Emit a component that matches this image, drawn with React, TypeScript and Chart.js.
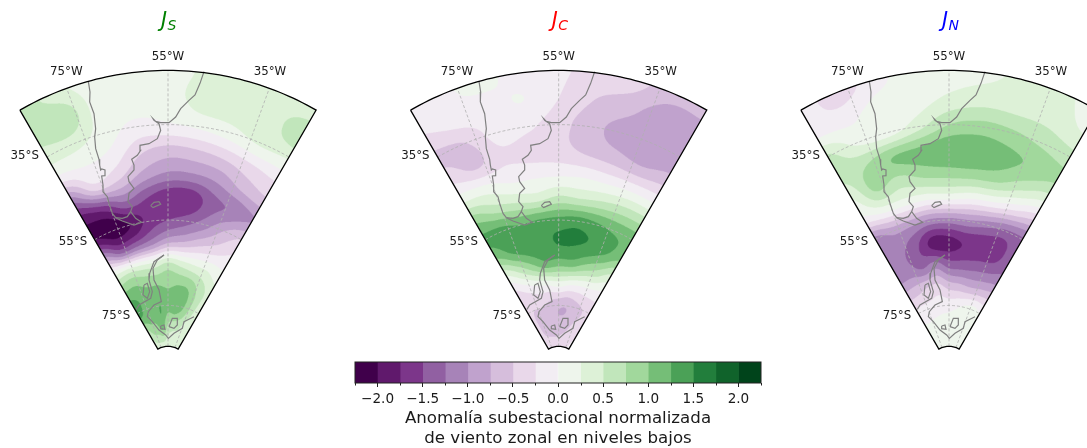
import React, { useEffect, useRef } from "react";
import { Chart, registerables } from "chart.js";

Chart.register(...registerables);

// ---------- field grid: normalised anomaly at lon/lat nodes ----------
const gridLons = [-85, -77.5, -70, -62.5, -55, -47.5, -40, -32.5, -25];
const gridLats = [-25, -30, -35, -40, -45, -50, -55, -60, -65, -70, -75, -80, -85];

const valuesJS = [
  [0.65, 0.35, 0.12, 0.12, 0.12, 0.3, 0.35, 0.35, 0.3],
  [0.6, 0.7, 0.12, 0.12, 0.12, 0.37, 0.37, 0.37, 0.72],
  [0.38, 0.35, 0.12, -0.08, -0.03, 0.05, 0.15, 0.3, 0.3],
  [-0.1, 0, -0.1, -0.45, -0.6, -0.55, -0.45, -0.3, -0.2],
  [-1.1, -0.4, -0.5, -0.85, -1.05, -1.05, -0.95, -0.7, -0.55],
  [-1.9, -1.7, -1.3, -1.5, -1.7, -1.7, -1.35, -1.2, -1.02],
  [-2.0, -2.15, -2.0, -1.65, -1.5, -1.35, -1.1, -0.75, -0.5],
  [-0.9, -1.4, -1.3, -1.1, -0.8, -0.7, -0.5, -0.35, -0.2],
  [0.35, 0.4, 0.35, 0.35, 0.55, 0.4, 0.3, 0.25, 0.1],
  [1.1, 1.1, 1.0, 1.0, 0.95, 1.0, 0.95, 0.65, 0.4],
  [1.4, 1.2, 1.1, 1.25, 1.1, 1.2, 1.0, 0.65, 0.3],
  [0.7, 0.9, 0.95, 1.1, 0.7, 0.6, 0.55, 0.35, 0.3],
  [0.4, 0.4, 0.4, 0.35, 0.3, 0.3, 0.3, 0.25, 0.25],
];

const valuesJC = [
  [-0.1, -0.02, 0.05, -0.1, -0.2, -0.35, -0.4, -0.65, -0.7],
  [-0.25, -0.1, -0.08, 0, -0.25, -0.5, -0.65, -0.9, -0.85],
  [-0.55, -0.5, -0.15, -0.2, -0.4, -0.65, -0.85, -0.95, -0.95],
  [-0.35, -0.55, -0.3, -0.35, -0.4, -0.55, -0.65, -0.75, -0.65],
  [0.15, 0.1, -0.05, -0.05, -0.05, -0.05, -0.1, -0.1, -0.1],
  [0.9, 0.65, 0.5, 0.4, 0.55, 0.5, 0.55, 0.6, 0.6],
  [1.3, 1.35, 1.25, 1.3, 1.33, 1.38, 1.3, 1.2, 1.15],
  [1.0, 1.3, 1.42, 1.42, 1.52, 1.52, 1.45, 1.3, 1.05],
  [0.2, 0.55, 0.9, 1.15, 1.1, 1.1, 0.9, 0.7, 0.4],
  [-0.35, -0.2, -0.05, 0, 0.1, 0, -0.05, -0.05, -0.1],
  [-0.45, -0.5, -0.5, -0.6, -0.7, -0.72, -0.6, -0.5, -0.4],
  [-0.3, -0.6, -0.65, -0.65, -0.65, -0.6, -0.5, -0.4, -0.3],
  [-0.2, -0.25, -0.3, -0.35, -0.35, -0.3, -0.3, -0.25, -0.2],
];

const valuesJN = [
  [-0.1, -0.4, -0.1, 0.1, 0.15, 0.2, 0.3, 0.3, 0.15],
  [-0.1, -0.08, 0.1, 0.12, 0.3, 0.4, 0.4, 0.4, 0.25],
  [0.55, 0.2, 0.12, 0.4, 0.75, 0.85, 0.8, 0.7, 0.6],
  [0.55, 0.75, 1.0, 1.08, 1.2, 1.2, 1.08, 0.95, 0.8],
  [0.25, 0.8, 0.65, 0.8, 0.85, 0.85, 0.8, 0.55, 0.3],
  [-0.1, 0.1, 0.1, 0.05, 0.1, 0, -0.05, -0.25, -0.5],
  [-1.1, -0.9, -0.95, -1.1, -1.1, -1.05, -1.15, -1.3, -1.3],
  [-1.15, -1.2, -1.45, -1.85, -1.85, -1.72, -1.7, -1.65, -1.35],
  [-1.15, -1.15, -1.3, -1.15, -1.4, -1.4, -1.35, -1.3, -1.2],
  [-0.65, -0.6, -0.5, -0.45, -0.65, -0.7, -0.75, -0.7, -0.65],
  [-0.15, -0.15, -0.15, -0.1, -0.1, -0.05, 0.05, 0.1, 0],
  [0.05, 0.05, 0.1, 0.1, 0.1, 0.12, 0.12, 0.12, 0.1],
  [0.1, 0.1, 0.1, 0.1, 0.1, 0.1, 0.1, 0.1, 0.1],
];

// ---------- colour bar ----------
const levelEdges = [
  -2.25, -2, -1.75, -1.5, -1.25, -1, -0.75, -0.5, -0.25, 0, 0.25, 0.5, 0.75, 1, 1.25, 1.5, 1.75, 2, 2.25,
];
const levelColors = [
  "#40004b", "#60196c", "#7c368a", "#9160a2", "#a783b8", "#c0a2cd", "#d6bedc", "#e9d8ea", "#f2edf3",
  "#eef5ec", "#ddf1d7", "#c1e6bb", "#a1d89c", "#75be77", "#4ba157", "#227e3c", "#10632b", "#00441b",
];
const majorTicks = [-2, -1.5, -1, -0.5, 0, 0.5, 1, 1.5, 2];
const minorTicks = [-2.25, -1.75, -1.25, -0.75, -0.25, 0.25, 0.75, 1.25, 1.75, 2.25];
const colorbarTitle = ["Anomalía subestacional normalizada", "de viento zonal en niveles bajos"];

// ---------- map furniture ----------
const gratLons = [-75, -55, -35];
const gratLats = [-35, -55, -75];
const mapLabelTexts = ["55°W", "75°W", "35°W", "35°S", "55°S", "75°S"];
const mapLabelE = [0, -305, 306, -430, -285, -156];
const mapLabelN = [930, 883, 883, 633, 373, 151];

// coastlines as [east, north] in map units (stereographic, pole at the origin)
const southAmerica = [
  [-239, 856], [-234, 824], [-235, 794], [-222, 759], [-217, 714], [-220, 689], [-217, 654], [-207, 622],
  [-205, 605], [-202, 590], [-199, 593], [-189, 590], [-189, 573], [-199, 572], [-195, 545], [-195, 525],
  [-182, 510], [-177, 490], [-167, 460], [-157, 447], [-137, 437], [-102, 425], [-79, 433], [-97, 445],
  [-112, 465], [-107, 480], [-120, 495], [-117, 520], [-102, 535], [-117, 555], [-120, 570], [-102, 590],
  [-102, 605], [-109, 622], [-92, 634], [-82, 649], [-84, 664], [-57, 669], [-32, 684], [-22, 709],
  [-27, 729], [-42, 739], [-45, 744], [-37, 736], [-22, 732], [3, 732], [23, 749], [38, 774], [63, 799],
  [81, 815], [96, 850], [108, 885],
];
const magellanStrait = [[-112, 465], [-122, 450], [-137, 445], [-157, 447]];
const falklands = [[-52, 483], [-42, 493], [-27, 495], [-22, 487], [-32, 483], [-45, 477], [-52, 483]];
const peninsulaWest = [
  [-12, 335], [-42, 315], [-55, 280], [-57, 260], [-47, 225], [-52, 205], [-87, 185], [-95, 172],
];
const peninsulaEast = [
  [-12, 335], [-32, 320], [-45, 295], [-42, 260], [-27, 230], [-20, 195], [-42, 185], [-59, 165], [-62, 150],
  [-47, 135], [-27, 110], [-7, 95], [1, 85], [18, 100], [43, 115], [48, 135], [78, 150],
];
const alexanderIsland = [[-72, 245], [-62, 250], [-55, 225], [-62, 205], [-75, 215], [-72, 245]];
const berknerIsland = [[3, 120], [13, 145], [28, 145], [28, 125], [18, 115], [3, 120]];
const smallIsland = [[-22, 122], [-12, 125], [-9, 112], [-22, 114], [-22, 122]];
const coastlines = [
  southAmerica, magellanStrait, falklands, peninsulaWest, peninsulaEast, alexanderIsland, berknerIsland, smallIsland,
];

// ---------- panels ----------
const panelNames = ["S", "C", "N"];
const panelColors = ["#008000", "#ff0000", "#0000ff"];
const panelValues = [valuesJS, valuesJC, valuesJN];
const panelLeft = [0, 390, 780];
const panelMinE = [-504, -506, -507];

const MAP_SCALE = 1395;
const DEG = Math.PI / 180;
const CENTER_LON = -55;
const LON_MIN = -85;
const LON_MAX = -25;
const LAT_MIN = -85;
const LAT_MAX = -25;
const PANEL_W = 336;
const PANEL_H = 384;

function project(lon: number, lat: number) {
  const r = MAP_SCALE * Math.tan(((90 + lat) / 2) * DEG);
  const t = (lon - CENTER_LON) * DEG;
  return { x: r * Math.sin(t), y: r * Math.cos(t) };
}

function catmull(a: number, b: number, c: number, d: number, t: number) {
  return 0.5 * (2 * b + (c - a) * t + (2 * a - 5 * b + 4 * c - d) * t * t + (3 * b - a - 3 * c + d) * t * t * t);
}

function sampleField(values: number[][], lon: number, lat: number) {
  const fx = ((lon - gridLons[0]) / (gridLons[gridLons.length - 1] - gridLons[0])) * (gridLons.length - 1);
  const fy = ((gridLats[0] - lat) / (gridLats[0] - gridLats[gridLats.length - 1])) * (gridLats.length - 1);
  const ix = Math.min(Math.floor(fx), gridLons.length - 2);
  const iy = Math.min(Math.floor(fy), gridLats.length - 2);
  const tx = fx - ix;
  const ty = fy - iy;
  const col: number[] = [];
  for (let j = -1; j <= 2; j++) {
    const row = values[Math.max(0, Math.min(gridLats.length - 1, iy + j))];
    const at = (k: number) => row[Math.max(0, Math.min(gridLons.length - 1, ix + k))];
    col.push(catmull(at(-1), at(0), at(1), at(2), tx));
  }
  return catmull(col[0], col[1], col[2], col[3], ty);
}

const hexRgb = (h: string) => [
  parseInt(h.slice(1, 3), 16),
  parseInt(h.slice(3, 5), 16),
  parseInt(h.slice(5, 7), 16),
];

const fieldPlugin = {
  id: "field",
  beforeDatasetsDraw(chart: any) {
    const values = chart.options.plugins.field.values as number[][];
    const { x: xs, y: ys } = chart.scales;
    const SS = 3;
    const W = chart.width * SS;
    const H = chart.height * SS;
    const off = document.createElement("canvas");
    off.width = W;
    off.height = H;
    const octx = off.getContext("2d")!;
    const img = octx.createImageData(W, H);
    const rgb = levelColors.map(hexRgb);
    for (let py = 0; py < H; py++) {
      const n = ys.getValueForPixel((py + 0.5) / SS);
      for (let px = 0; px < W; px++) {
        const e = xs.getValueForPixel((px + 0.5) / SS);
        const r = Math.hypot(e, n);
        const lat = -90 + (2 * Math.atan(r / MAP_SCALE)) / DEG;
        const lon = CENTER_LON + Math.atan2(e, n) / DEG;
        if (lon < LON_MIN || lon > LON_MAX || lat < LAT_MIN || lat > LAT_MAX) continue;
        const v = sampleField(values, lon, lat);
        let idx = Math.floor((v - levelEdges[0]) / 0.25);
        idx = Math.max(0, Math.min(levelColors.length - 1, idx));
        const o = (py * W + px) * 4;
        img.data[o] = rgb[idx][0];
        img.data[o + 1] = rgb[idx][1];
        img.data[o + 2] = rgb[idx][2];
        img.data[o + 3] = 255;
      }
    }
    octx.putImageData(img, 0, 0);
    const ctx = chart.ctx;
    ctx.save();
    ctx.imageSmoothingEnabled = true;
    ctx.imageSmoothingQuality = "high";
    ctx.drawImage(off, 0, 0, chart.width, chart.height);
    ctx.restore();
  },
};

const mapTextPlugin = {
  id: "mapText",
  afterDraw(chart: any) {
    const opts = chart.options.plugins.mapText;
    const { x: xs, y: ys } = chart.scales;
    const ctx = chart.ctx;
    ctx.save();
    ctx.fillStyle = "#1a1a1a";
    ctx.font = '11.8px "DejaVu Sans"';
    ctx.textAlign = "center";
    ctx.textBaseline = "middle";
    mapLabelTexts.forEach((t, i) => {
      ctx.fillText(t, xs.getPixelForValue(mapLabelE[i]), ys.getPixelForValue(mapLabelN[i]));
    });
    const cx = xs.getPixelForValue(0);
    ctx.textAlign = "left";
    ctx.textBaseline = "alphabetic";
    ctx.fillStyle = opts.color;
    ctx.font = 'italic 20.5px "DejaVu Sans"';
    ctx.fillText("J", cx - 7, 27);
    ctx.font = 'italic 14px "DejaVu Sans"';
    ctx.fillText(opts.sub, cx - 0.5, 30);
    ctx.restore();
  },
};

const colorbarFramePlugin = {
  id: "colorbarFrame",
  afterDraw(chart: any) {
    const { left, right, top, bottom } = chart.chartArea;
    const xs = chart.scales.x;
    const ctx = chart.ctx;
    ctx.save();
    ctx.strokeStyle = "#222222";
    ctx.lineWidth = 1;
    ctx.strokeRect(left, top, right - left, bottom - top);
    ctx.beginPath();
    minorTicks.forEach((v) => {
      const p = Math.round(xs.getPixelForValue(v)) + 0.5;
      ctx.moveTo(p, bottom);
      ctx.lineTo(p, bottom + 2.5);
    });
    ctx.stroke();
    ctx.restore();
  },
};

function lineSet(points: { x: number; y: number }[], color: string, width: number, dash: number[] = []) {
  return {
    type: "scatter" as const,
    data: points,
    showLine: true,
    fill: false,
    tension: 0,
    pointRadius: 0,
    borderColor: color,
    borderWidth: width,
    borderDash: dash,
    clip: false as any,
  };
}

function range(a: number, b: number, steps: number) {
  const out: number[] = [];
  for (let i = 0; i <= steps; i++) out.push(a + ((b - a) * i) / steps);
  return out;
}

function panelConfig(i: number) {
  const values = panelValues[i];
  const gridNodes: any[] = [];
  gridLats.forEach((lat, r) =>
    gridLons.forEach((lon, c) => gridNodes.push({ ...project(lon, lat), v: values[r][c] })),
  );
  const border = [
    ...range(LON_MIN, LON_MAX, 60).map((l) => project(l, LAT_MAX)),
    ...range(LON_MAX, LON_MIN, 20).map((l) => project(l, LAT_MIN)),
  ];
  border.push(border[0]);
  const datasets: any[] = [
    lineSet(border, "#000000", 1.3),
    ...coastlines.map((c) => lineSet(c.map(([x, y]) => ({ x, y })), "#808080", 1.2)),
    ...gratLons.map((l) => lineSet(range(LAT_MIN, LAT_MAX, 20).map((a) => project(l, a)), "#b0b0b0", 0.8, [3, 2])),
    ...gratLats.map((a) => lineSet(range(LON_MIN, LON_MAX, 40).map((l) => project(l, a)), "#b0b0b0", 0.8, [3, 2])),
    { type: "scatter", data: gridNodes, pointRadius: 0, showLine: false },
  ];
  return {
    type: "scatter" as const,
    data: { datasets },
    options: {
      responsive: false,
      animation: false as const,
      events: [],
      layout: { padding: 0 },
      scales: {
        x: { type: "linear", display: false, min: panelMinE[i], max: panelMinE[i] + PANEL_W * 3 },
        y: { type: "linear", display: false, min: 1100 - PANEL_H * 3, max: 1100 },
      },
      plugins: {
        legend: { display: false },
        tooltip: { enabled: false },
        field: { values },
        mapText: { color: panelColors[i], sub: panelNames[i] },
      },
    },
    plugins: [fieldPlugin, mapTextPlugin],
  };
}

function colorbarConfig() {
  return {
    type: "bar" as const,
    data: {
      labels: ["anomalía"],
      datasets: levelColors.map((c, i) => ({
        data: [[levelEdges[i], levelEdges[i + 1]]],
        backgroundColor: c,
        borderWidth: 0,
        grouped: false,
        barPercentage: 1,
        categoryPercentage: 1,
      })),
    },
    options: {
      indexAxis: "y" as const,
      responsive: false,
      animation: false as const,
      events: [],
      layout: { padding: { left: 15, right: 19, top: 7, bottom: 0 } },
      scales: {
        y: { display: false },
        x: {
          type: "linear",
          min: levelEdges[0],
          max: levelEdges[levelEdges.length - 1],
          afterBuildTicks: (s: any) => {
            s.ticks = majorTicks.map((value) => ({ value }));
          },
          afterFit: (s: any) => {
            s.height = 65;
          },
          grid: { drawOnChartArea: false, tickLength: 4, tickColor: "#222222", tickWidth: 1 },
          border: { display: false },
          ticks: {
            maxRotation: 0,
            autoSkip: false,
            padding: 4,
            color: "#1a1a1a",
            font: { family: '"DejaVu Sans"', size: 13.6 },
            callback: (v: any) => (Number(v) < 0 ? "\u2212" : "") + Math.abs(Number(v)).toFixed(1),
          },
          title: {
            display: true,
            text: colorbarTitle,
            color: "#1a1a1a",
            font: { family: '"DejaVu Sans"', size: 16.67, lineHeight: 1.17 },
            padding: { top: 4, bottom: 0 },
          },
        },
      },
      plugins: { legend: { display: false }, tooltip: { enabled: false } },
    },
    plugins: [colorbarFramePlugin],
  };
}

function ChartCanvas({ make, left, top, width, height }: any) {
  const ref = useRef<HTMLCanvasElement>(null);
  useEffect(() => {
    const chart = new Chart(ref.current!, make());
    return () => chart.destroy();
  }, []);
  return (
    <canvas
      ref={ref}
      width={width}
      height={height}
      style={{ position: "absolute", left, top, width, height, display: "block" }}
    />
  );
}

export default function App() {
  return (
    <div
      style={{
        position: "fixed",
        left: 0,
        top: 0,
        width: 1087,
        height: 448,
        overflow: "hidden",
        background: "#ffffff",
      }}
    >
      {panelNames.map((n, i) => (
        <ChartCanvas key={n} make={() => panelConfig(i)} left={panelLeft[i]} top={0} width={PANEL_W} height={PANEL_H} />
      ))}
      <ChartCanvas make={colorbarConfig} left={340} top={355} width={440} height={93} />
    </div>
  );
}
